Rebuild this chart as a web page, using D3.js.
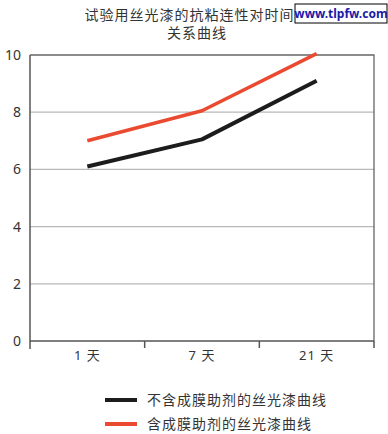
<!DOCTYPE html>
<html>
<head>
<meta charset="utf-8">
<script src="https://cdn.jsdelivr.net/npm/d3@7"></script>
<style>
  body { margin: 0; background: #fff; }
  text { font-family: "Noto Sans", "Noto Sans CJK SC", sans-serif; fill: #333; }
</style>
</head>
<body>
<script>
// chart data
var days = ["1 天", "7 天", "21 天"];
var no_agent = [6.1, 7.05, 9.1];    // 不含成膜助剂
var with_agent = [7.0, 8.05, 10.05]; // 含成膜助剂
var y_ticks = [0, 2, 4, 6, 8, 10];
var title_lines = ["试验用丝光漆的抗粘连性对时间的", "关系曲线"];
var legend_names = ["不含成膜助剂的丝光漆曲线", "含成膜助剂的丝光漆曲线"];

var w = 388;
var h = 434;
// note: "top" is taken by window.top, so use plot_* names
var plot_left = 30, plot_right = 374, plot_top = 55, plot_bottom = 341;

var svg = d3.select("body")
  .append("svg")
  .attr("width", w)
  .attr("height", h);

var x = d3.scaleBand()
  .domain(days)
  .range([plot_left, plot_right])
  .padding(0);

var y = d3.scaleLinear()
  .domain([0, 10])
  .range([plot_bottom, plot_top]);

// title
svg.selectAll("text.title")
  .data(title_lines)
  .enter()
  .append("text")
  .attr("class", "title")
  .attr("x", 197)
  .attr("y", function(d, i) { return 20 + i * 18; })
  .attr("text-anchor", "middle")
  .style("font-size", "14px")
  .style("letter-spacing", "1px")
  .text(function(d) { return d; });

// grid lines
svg.selectAll("line.grid")
  .data(y_ticks.filter(function(d) { return d > 0 && d < 10; }))
  .enter()
  .append("line")
  .attr("class", "grid")
  .attr("x1", plot_left).attr("x2", plot_right)
  .attr("y1", function(d) { return y(d); })
  .attr("y2", function(d) { return y(d); })
  .attr("stroke", "#b8b8b8")
  .attr("stroke-width", 1.3);

// frame: top and right
svg.append("path")
  .attr("d", "M" + plot_left + "," + y(10) + "H" + plot_right + "V" + y(0))
  .attr("fill", "none")
  .attr("stroke", "#666")
  .attr("stroke-width", 1.3);

// y axis
var y_axis = d3.axisLeft(y)
  .tickValues(y_ticks)
  .tickSize(0)
  .tickPadding(9);

svg.append("g")
  .attr("transform", "translate(" + plot_left + ",0)")
  .call(y_axis)
  .call(function(g) {
    g.select(".domain").remove();
    g.selectAll("text").style("font-size", "14px").style("fill", "#333");
  });

svg.append("line")
  .attr("x1", plot_left).attr("x2", plot_left)
  .attr("y1", y(10)).attr("y2", y(0) + 8)
  .attr("stroke", "#555")
  .attr("stroke-width", 1.5);

// x axis
var x_axis = d3.axisBottom(x)
  .tickSize(0)
  .tickPadding(10);

svg.append("g")
  .attr("transform", "translate(0," + plot_bottom + ")")
  .call(x_axis)
  .call(function(g) {
    g.select(".domain").remove();
    g.selectAll("text").style("font-size", "13px").style("fill", "#333")
      .style("letter-spacing", "1px");
  });

svg.append("line")
  .attr("x1", plot_left).attr("x2", plot_right)
  .attr("y1", plot_bottom).attr("y2", plot_bottom)
  .attr("stroke", "#555")
  .attr("stroke-width", 1.5);

// band boundary ticks
svg.selectAll("line.xtick")
  .data(days)
  .enter()
  .append("line")
  .attr("class", "xtick")
  .attr("x1", function(d) { return x(d) + x.bandwidth(); })
  .attr("x2", function(d) { return x(d) + x.bandwidth(); })
  .attr("y1", plot_bottom)
  .attr("y2", plot_bottom + 7)
  .attr("stroke", "#555")
  .attr("stroke-width", 1.5);

// lines
var line = d3.line()
  .x(function(d, i) { return x(days[i]) + x.bandwidth() / 2; })
  .y(function(d) { return y(d); });

var series = [
  { values: no_agent, color: "#1c1c1c", width: 4 },
  { values: with_agent, color: "#ea4a30", width: 3.5 }
];

svg.selectAll("path.series")
  .data(series)
  .enter()
  .append("path")
  .attr("class", "series")
  .attr("d", function(d) { return line(d.values); })
  .attr("fill", "none")
  .attr("stroke", function(d) { return d.color; })
  .attr("stroke-width", function(d) { return d.width; })
  .attr("stroke-linejoin", "round");

// legend
var legend = svg.selectAll("g.legend")
  .data(series)
  .enter()
  .append("g")
  .attr("class", "legend")
  .attr("transform", function(d, i) { return "translate(105," + (400 + i * 24) + ")"; });

legend.append("line")
  .attr("x1", 0).attr("x2", 32)
  .attr("y1", 0).attr("y2", 0)
  .attr("stroke", function(d) { return d.color; })
  .attr("stroke-width", 4);

legend.append("text")
  .attr("x", 42)
  .attr("y", 5)
  .style("font-size", "14px")
  .style("letter-spacing", "1px")
  .text(function(d, i) { return legend_names[i]; });

// watermark box (covers the end of the title, as in the picture)
svg.append("rect")
  .attr("x", 295).attr("y", 4)
  .attr("width", 92).attr("height", 19)
  .attr("fill", "#fff")
  .attr("stroke", "#000")
  .attr("stroke-width", 1);

svg.append("text")
  .attr("x", 341).attr("y", 18)
  .attr("text-anchor", "middle")
  .style("font-size", "12px")
  .style("font-weight", "bold")
  .style("fill", "#1a1aa8")
  .text("www.tlpfw.com");
</script>
</body>
</html>
